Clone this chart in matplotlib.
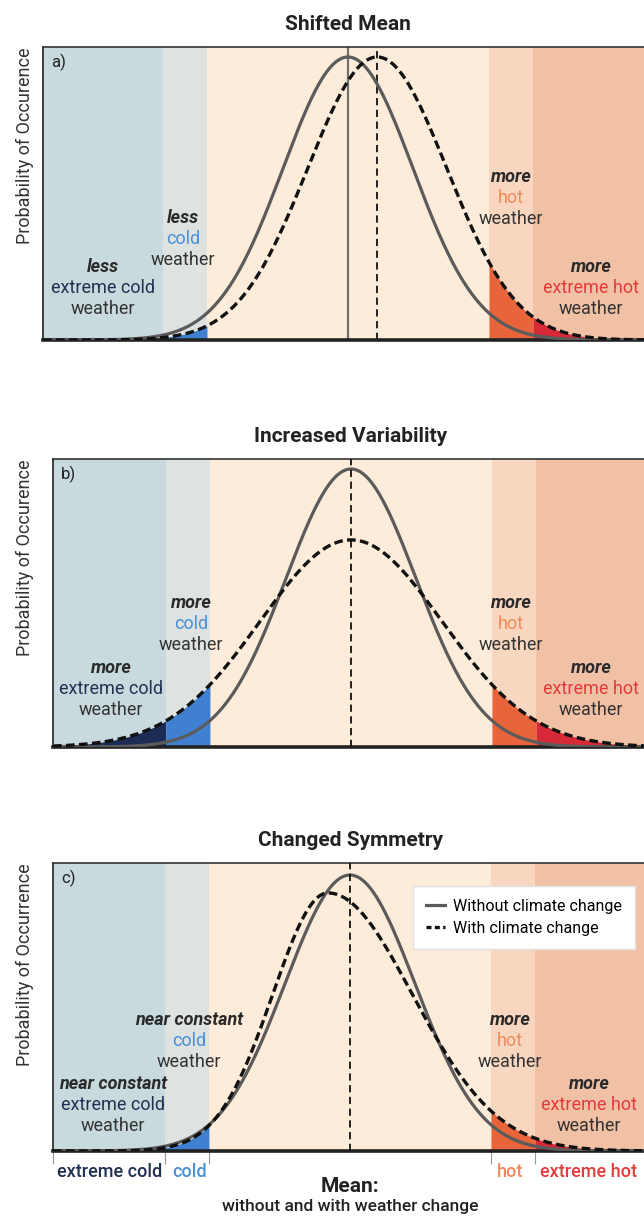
import numpy as np
import matplotlib.pyplot as plt
from matplotlib.lines import Line2D

plt.rcParams['font.family'] = ['Roboto', 'DejaVu Sans']

W, H = 644, 1217

# band edges, in standard deviations of the "without climate change" curve
band_edges = [-2.85, -2.17, 2.17, 2.85]
bottom_labels = ['extreme cold', 'cold', 'hot', 'extreme hot']

# curves: (mode, left sd, right sd, peak height)
base_curve = (0.0, 1.0, 1.0, 1.0)
changed_curves = [(0.45, 1.07, 1.07, 1.0),    # shifted mean
                  (0.0, 1.4, 1.4, 0.745),     # increased variability
                  (-0.34, 0.85, 1.3, 0.935)]  # changed symmetry

panel_titles = ['Shifted Mean', 'Increased Variability', 'Changed Symmetry']
panel_tags = ['a)', 'b)', 'c)']
ylabels = ['Probability of Occurence', 'Probability of Occurence', 'Probability of Occurrence']

# qualifier words for extreme cold, cold, hot, extreme hot
qualifiers = [['less', 'less', 'more', 'more'],
              ['more', 'more', 'more', 'more'],
              ['near constant', 'near constant', 'more', 'more']]
zone_words = ['extreme cold', 'cold', 'hot', 'extreme hot']

legend_labels = ['Without climate change', 'With climate change']

bg_colors = ['#c8dade', '#dee3e1', '#fdecd9', '#f8d6c0', '#f1c1a5']
fill_colors = ['#1d2c55', '#3f80d0', None, '#e8653c', '#d62a38']
word_colors = ['#1f3050', '#4a90d4', '#f08a5a', '#e23b3b']

# layout in pixels: left edge, mean line, box top, baseline, peak of solid curve, title y
layout = [(43, 348, 47, 340, 57, 25),
          (53, 351, 459, 747, 469, 437),
          (53, 350, 863, 1151, 875, 840)]
# text block anchors in pixels (x, y of first line) for the four zones
text_pos = [[(103, 267), (183, 218), (511, 177), (591, 267)],
            [(111, 668), (191, 603), (511, 603), (591, 668)],
            [(113, 1084), (189, 1020), (510, 1020), (589, 1084)]]
px_per_sd = 65.0
right_px = 652
line_gap = 21


def curve(x, mode, sl, sr, peak):
    s = np.where(x < mode, sl, sr)
    return peak * np.exp(-0.5 * ((x - mode) / s) ** 2)


def fx(px):
    return px / W


def fy(py):
    return 1 - py / H


fig = plt.figure(figsize=(W / 100, H / 100), dpi=100)

for k in range(3):
    left, center, top, base, peak, title_y = layout[k]
    ax = fig.add_axes([fx(left), fy(base), (right_px - left) / W, (base - top) / H])
    x0 = (left - center) / px_per_sd
    x1 = (right_px - center) / px_per_sd
    ax.set_xlim(x0, x1)
    ax.set_ylim(0, (base - top) / (base - peak))

    edges = [x0] + band_edges + [x1]
    for i in range(5):
        ax.axvspan(edges[i], edges[i + 1], color=bg_colors[i], lw=0, zorder=0)

    cc = changed_curves[k]
    for i in [0, 1, 3, 4]:
        xs = np.linspace(edges[i], edges[i + 1], 200)
        ax.fill_between(xs, 0, curve(xs, *cc), color=fill_colors[i], lw=0, zorder=1)

    if k == 0:
        ax.axvline(base_curve[0], color='#707070', lw=1.6, zorder=2)
        ax.axvline(cc[0], color='#111111', lw=1.3, ls=(0, (4, 2.5)), zorder=2)
    else:
        ax.axvline(base_curve[0], color='#111111', lw=1.3, ls=(0, (4, 2.5)), zorder=5)

    x = np.linspace(x0, x1, 800)
    ax.plot(x, curve(x, *base_curve), color='#5b5b5b', lw=2.3, zorder=3)
    ax.plot(x, curve(x, *cc), color='#111111', lw=2.4, dashes=(2.6, 1.3), zorder=4)

    ax.spines['right'].set_visible(False)
    ax.spines['left'].set_linewidth(1.2)
    ax.spines['left'].set_color('#222222')
    ax.spines['top'].set_linewidth(1.2)
    ax.spines['top'].set_color('#333333')
    ax.spines['bottom'].set_linewidth(2.6)
    ax.spines['bottom'].set_color('#222222')
    ax.set_yticks([])
    if k == 2:
        ax.set_xticks([x0] + band_edges)
        ax.tick_params(axis='x', length=9, width=0.8, color='#999999', labelbottom=False)
    else:
        ax.set_xticks([])

    fig.text(fx(center), fy(title_y), panel_titles[k], ha='center', va='center',
             fontsize=15, fontweight='semibold', color='#222222')
    fig.text(fx(left + 8), fy(top + 15), panel_tags[k], ha='left', va='center',
             fontsize=12, color='#222222')
    fig.text(fx(25), fy(top), ylabels[k], rotation=90, ha='center', va='top',
             fontsize=13, color='#333333')

    for j in range(4):
        tx, ty = text_pos[k][j]
        fig.text(fx(tx), fy(ty), qualifiers[k][j], ha='center', va='center',
                 fontsize=13, fontweight='bold', fontstyle='italic', color='#2a2a2a')
        fig.text(fx(tx), fy(ty + line_gap), zone_words[j], ha='center', va='center',
                 fontsize=13, color=word_colors[j])
        fig.text(fx(tx), fy(ty + 2 * line_gap), 'weather', ha='center', va='center',
                 fontsize=13, color='#333333')

    if k == 2:
        handles = [Line2D([], [], color='#5b5b5b', lw=2.3),
                   Line2D([], [], color='#111111', lw=2.4, dashes=(1.5, 1.0))]
        ax.legend(handles, legend_labels, loc='upper right',
                  bbox_to_anchor=(fx(643), fy(878)), bbox_transform=fig.transFigure,
                  fancybox=False, framealpha=1, facecolor='white', edgecolor='#e0e0e0',
                  fontsize=11.5, handlelength=1.2, handletextpad=0.5,
                  borderpad=0.8, labelspacing=0.45)

        label_x = [110, 190, 510, 588]
        for j in range(4):
            fig.text(fx(label_x[j]), fy(1172), bottom_labels[j], ha='center', va='center',
                     fontsize=13, fontweight='medium', color=word_colors[j])
        fig.text(fx(center), fy(1186), 'Mean:', ha='center', va='center',
                 fontsize=15, fontweight='semibold', color='#222222')
        fig.text(fx(center), fy(1207), 'without and with weather change', ha='center',
                 va='center', fontsize=12.5, fontweight='medium', color='#222222')

fig.savefig('out.png', dpi=100, facecolor='white')
